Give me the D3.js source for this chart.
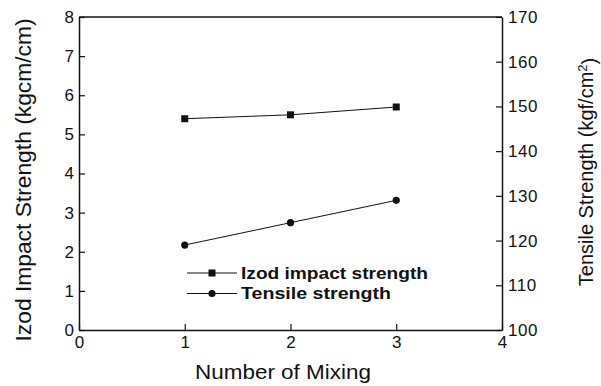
<!DOCTYPE html>
<html>
<head>
<meta charset="utf-8">
<script src="https://cdn.jsdelivr.net/npm/d3@7"></script>
<style>
  body { margin: 0; background: #fff; }
  svg text { font-family: "Liberation Sans", Arial, sans-serif; fill: #111; }
</style>
</head>
<body>
<div id="chart"></div>
<script>
// Data
const mixing = [1, 2, 3];
const izodValues = [5.4, 5.5, 5.7];        // kgcm/cm, left axis
const tensileValues = [119, 124, 129];     // kgf/cm2, right axis
const xTicks = [0, 1, 2, 3, 4];
const leftTicks = [0, 1, 2, 3, 4, 5, 6, 7, 8];
const rightTicks = [100, 110, 120, 130, 140, 150, 160, 170];

const width = 601, height = 386;
const margin = { top: 17, right: 99, bottom: 56, left: 79 };
const innerW = width - margin.left - margin.right;
const innerH = height - margin.top - margin.bottom;

const svg = d3.select('#chart')
  .append('svg')
  .attr('width', width)
  .attr('height', height);

const g = svg.append('g')
  .attr('transform', `translate(${margin.left},${margin.top})`);

// Scales
const x = d3.scaleLinear().domain([0, 4]).range([0, innerW]);
const yLeft = d3.scaleLinear().domain([0, 8]).range([innerH, 0]);
const yRight = d3.scaleLinear().domain([100, 170]).range([innerH, 0]);

// Frame (top border)
g.append('line')
  .attr('x1', 0).attr('x2', innerW)
  .attr('y1', 0).attr('y2', 0)
  .attr('stroke', '#111').attr('stroke-width', 1.5);

// Axes with inward ticks
const xAxis = g.append('g')
  .attr('transform', `translate(0,${innerH})`)
  .call(d3.axisBottom(x).tickValues(xTicks).tickFormat(d3.format('d')).tickSizeInner(-6).tickSizeOuter(0).tickPadding(8));

const leftAxis = g.append('g')
  .call(d3.axisLeft(yLeft).tickValues(leftTicks).tickFormat(d3.format('d')).tickSizeInner(-6).tickSizeOuter(0).tickPadding(5));

const rightAxis = g.append('g')
  .attr('transform', `translate(${innerW},0)`)
  .call(d3.axisRight(yRight).tickValues(rightTicks).tickFormat(d3.format('d')).tickSizeInner(-6).tickSizeOuter(0).tickPadding(6));

[xAxis, leftAxis, rightAxis].forEach(a => {
  a.select('.domain').attr('stroke', '#111').attr('stroke-width', 1.5);
  a.selectAll('.tick line').attr('stroke', '#111').attr('stroke-width', 1.2);
  a.selectAll('.tick text')
    .style('font-family', '"Liberation Sans", Arial, sans-serif')
    .style('font-size', '17px')
    .attr('fill', '#111');
});
xAxis.selectAll('.tick text').attr('dy', '0.6em');
rightAxis.selectAll('.tick text').style('letter-spacing', '0.5px');

// Izod line + squares
const izodLine = d3.line()
  .x((d, i) => x(mixing[i]))
  .y(d => yLeft(d));

g.append('path')
  .datum(izodValues)
  .attr('d', izodLine)
  .attr('fill', 'none')
  .attr('stroke', '#111')
  .attr('stroke-width', 1);

g.selectAll('.izod')
  .data(izodValues)
  .enter()
  .append('rect')
  .attr('class', 'izod')
  .attr('x', (d, i) => x(mixing[i]) - 3.5)
  .attr('y', d => yLeft(d) - 3.5)
  .attr('width', 7)
  .attr('height', 7)
  .attr('fill', '#111');

// Tensile line + circles
const tensileLine = d3.line()
  .x((d, i) => x(mixing[i]))
  .y(d => yRight(d));

g.append('path')
  .datum(tensileValues)
  .attr('d', tensileLine)
  .attr('fill', 'none')
  .attr('stroke', '#111')
  .attr('stroke-width', 1);

g.selectAll('.tensile')
  .data(tensileValues)
  .enter()
  .append('circle')
  .attr('class', 'tensile')
  .attr('cx', (d, i) => x(mixing[i]))
  .attr('cy', d => yRight(d))
  .attr('r', 3.6)
  .attr('fill', '#111');

// Legend
const legendItems = [
  { label: 'Izod impact strength', shape: 'square', len: 187 },
  { label: 'Tensile strength', shape: 'circle', len: 150 }
];
const legend = svg.append('g').attr('transform', 'translate(187,273)');
legendItems.forEach((item, i) => {
  const row = legend.append('g').attr('transform', `translate(0,${i * 20.5})`);
  row.append('line')
    .attr('x1', 0).attr('x2', 50)
    .attr('stroke', '#111').attr('stroke-width', 1);
  if (item.shape === 'square') {
    row.append('rect').attr('x', 21.5).attr('y', -3.5).attr('width', 7).attr('height', 7).attr('fill', '#111');
  } else {
    row.append('circle').attr('cx', 25).attr('r', 3.6).attr('fill', '#111');
  }
  row.append('text')
    .attr('x', 54)
    .attr('dy', '0.36em')
    .attr('textLength', item.len)
    .attr('lengthAdjust', 'spacingAndGlyphs')
    .style('font-size', '16px')
    .style('font-weight', 'bold')
    .text(item.label);
});

// Axis titles
svg.append('text')
  .attr('transform', 'translate(31,180) rotate(-90)')
  .attr('text-anchor', 'middle')
  .attr('textLength', 323)
  .attr('lengthAdjust', 'spacingAndGlyphs')
  .style('font-size', '22px')
  .text('Izod Impact Strength (kgcm/cm)');

const rt = svg.append('text')
  .attr('transform', 'translate(593,172) rotate(-90)')
  .attr('text-anchor', 'middle')
  .style('font-size', '20px');
rt.append('tspan').text('Tensile Strength (kgf/cm');
rt.append('tspan').attr('dy', '-0.45em').style('font-size', '13px').text('2');
rt.append('tspan').attr('dy', '0.45em').text(')');

svg.append('text')
  .attr('x', 283)
  .attr('y', 379)
  .attr('text-anchor', 'middle')
  .attr('textLength', 176)
  .attr('lengthAdjust', 'spacingAndGlyphs')
  .style('font-size', '20px')
  .text('Number of Mixing');
</script>
</body>
</html>
